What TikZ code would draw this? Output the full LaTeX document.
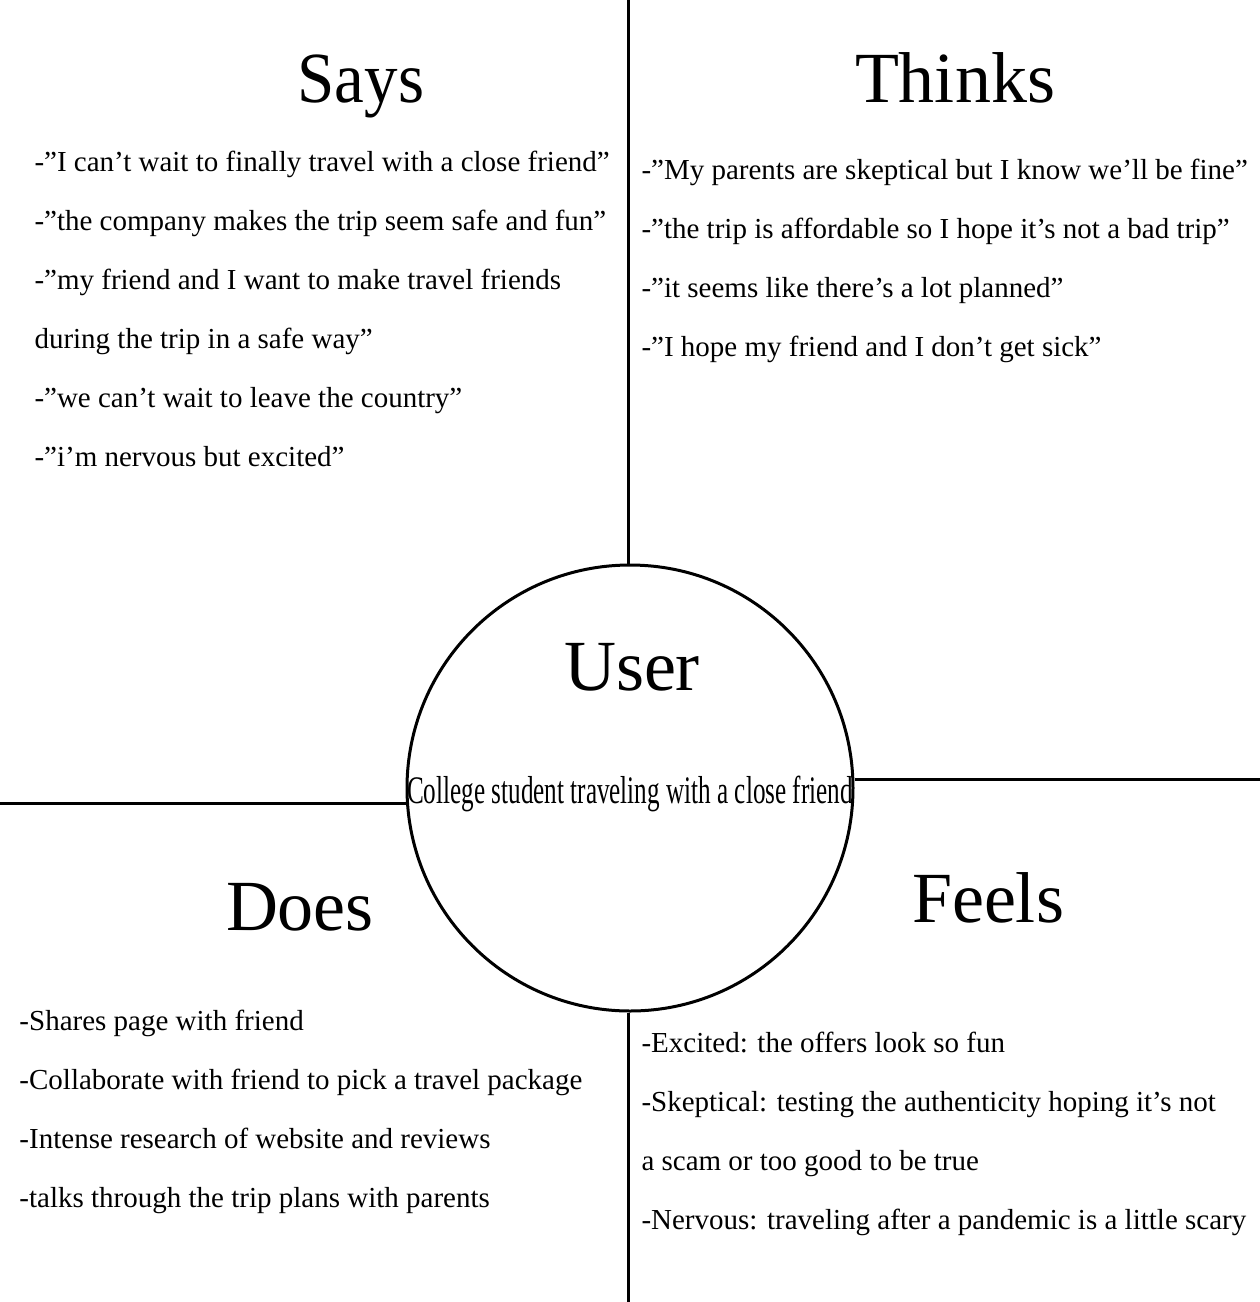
\documentclass[tikz,border=0pt]{standalone}
\usepackage{graphicx}
\usepackage{fontspec}
\setmainfont{Liberation Serif}
\usetikzlibrary{positioning}

\begin{document}
\begin{tikzpicture}[x=1pt,y=-1pt,line width=3pt,
    head node/.style={anchor=base,inner sep=0pt,font=\fontsize{72}{80}\selectfont},
    item node/.style={anchor=base west,inner sep=0pt,font=\fontsize{29}{35}\selectfont},
    next item/.style={below=59pt of #1.base west,anchor=base west}]
                \useasboundingbox (0,0) rectangle (1260,1302);

                \node[circle,draw,minimum size=446pt,inner sep=0pt] (user) at (630,788) {};
                \node[head node] (userhead) at (632,690) {User};
                \node[anchor=base,inner sep=0pt,font=\fontsize{39}{42}\selectfont] (role) at (630,803)
                    {\scalebox{0.645}[1]{College student traveling with a close friend}};

                \coordinate (top end) at (628,0);
                \coordinate (bottom end) at (628,1302);
                \coordinate (left end) at (0,803);
                \coordinate (right end) at (1260,779);
                \draw (top end) -- (top end |- user.north);
                \draw (bottom end) -- (bottom end |- user.south);
                \draw (left end) -- (left end -| user.west);
                \draw (right end) -- (right end -| user.east);

                % says
                \node[head node] (says) at (361,102) {\scalebox{0.93}[1]{Says}};
                \node[item node] (s1) at (33,171) {-”I can’t wait to finally travel with a close friend”};
                \node[item node] (s2) [next item=s1] {-”the company makes the trip seem safe and fun”};
                \node[item node] (s3) [next item=s2] {-”my friend and I want to make travel friends};
                \node[item node] (s4) [next item=s3] {during the trip in a safe way”};
                \node[item node] (s5) [next item=s4] {-”we can’t wait to leave the country”};
                \node[item node] (s6) [next item=s5] {-”i’m nervous but excited”};

                % thinks
                \node[head node] (thinks) at (955,102) {Thinks};
                \node[item node] (t1) at (640,179) {-”My parents are skeptical but I know we’ll be fine”};
                \node[item node] (t2) [next item=t1] {-”the trip is affordable so I hope it’s not a bad trip”};
                \node[item node] (t3) [next item=t2] {-”it seems like there’s a lot planned”};
                \node[item node] (t4) [next item=t3] {-”I hope my friend and I don’t get sick”};

                % does
                \node[head node] (does) at (300,930) {Does};
                \node[item node] (d1) at (18,1030) {-Shares page with friend};
                \node[item node] (d2) [next item=d1] {-Collaborate with friend to pick a travel package};
                \node[item node] (d3) [next item=d2] {-Intense research of website and reviews};
                \node[item node] (d4) [next item=d3] {-talks through the trip plans with parents};

                % feels
                \node[head node] (feels) at (988,922) {Feels};
                \node[item node] (f1) at (640,1052) {-Excited: the offers look so fun};
                \node[item node] (f2) [next item=f1] {-Skeptical: testing the authenticity hoping it’s not};
                \node[item node] (f3) [next item=f2] {a scam or too good to be true};
                \node[item node] (f4) [next item=f3] {-Nervous: traveling after a pandemic is a little scary};

            \end{tikzpicture}
\end{document}
